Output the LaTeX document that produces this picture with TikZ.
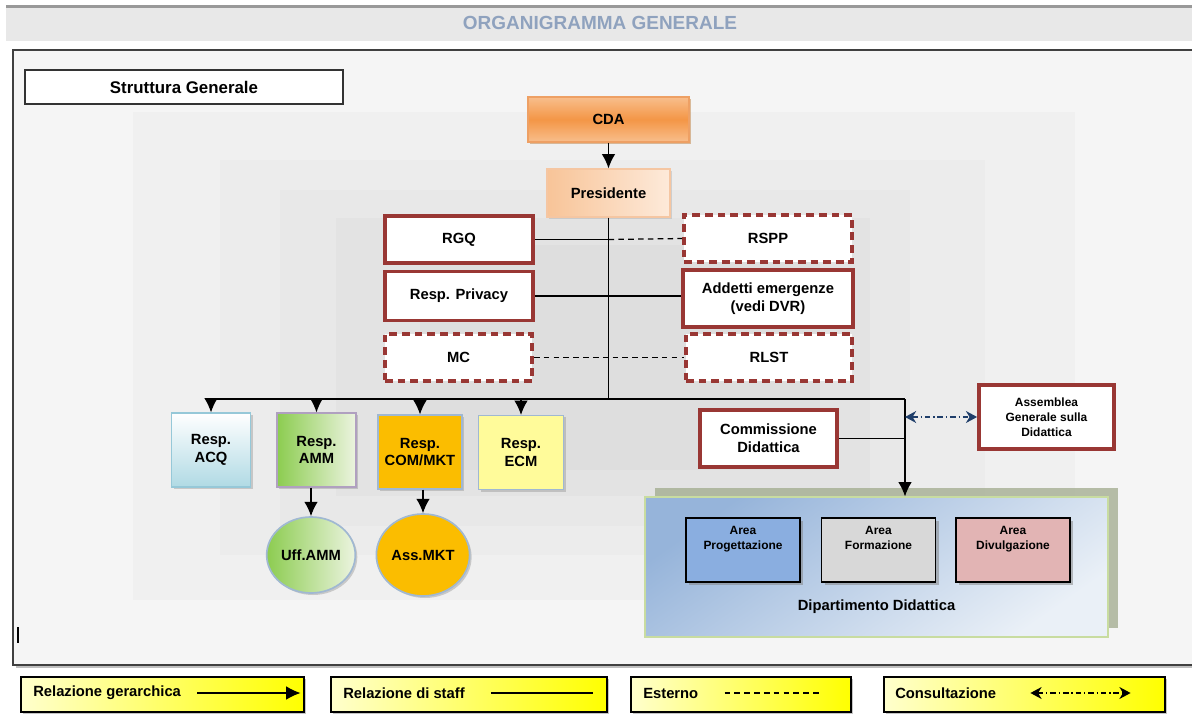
\documentclass[tikz,border=0pt]{standalone}
\usepackage{fontspec}
\setmainfont{Liberation Sans}
\usetikzlibrary{arrows.meta,positioning,shapes.geometric,shadows}
\definecolor{boxred}{RGB}{153,55,52}
\definecolor{titleblue}{RGB}{143,162,190}
\definecolor{cdaA}{RGB}{248,190,140}
\definecolor{cdaB}{RGB}{244,150,70}
\definecolor{cdaline}{RGB}{238,160,100}
\definecolor{presA}{RGB}{253,234,218}
\definecolor{presB}{RGB}{248,196,152}
\definecolor{acqB}{RGB}{176,218,228}
\definecolor{acqline}{RGB}{150,200,216}
\definecolor{ammA}{RGB}{140,204,80}
\definecolor{ammB}{RGB}{236,244,224}
\definecolor{ammline}{RGB}{176,160,192}
\definecolor{amber}{RGB}{251,189,0}
\definecolor{ecmfill}{RGB}{255,251,154}
\definecolor{boxline}{RGB}{160,184,210}
\definecolor{deptA}{RGB}{150,180,218}
\definecolor{deptB}{RGB}{234,240,247}
\definecolor{deptline}{RGB}{200,220,160}
\definecolor{deptshadow}{RGB}{160,170,140}
\definecolor{areaBlue}{RGB}{138,174,224}
\definecolor{areaGray}{RGB}{216,216,216}
\definecolor{areaPink}{RGB}{226,180,180}
\definecolor{navy}{RGB}{31,62,106}
\definecolor{legA}{RGB}{255,255,205}

\begin{document}
\begin{tikzpicture}[
  x=0.25mm,y=-0.25mm,
  font=\fontsize{10.5}{12.5}\selectfont\bfseries,
  base/.style={align=center,inner sep=1pt},
  redbox/.style={base,draw=boxred,line width=2.7pt,fill=white},
  redext/.style={redbox,dash pattern=on 5.5pt off 3.5pt},
  resp/.style={base,line width=0.8pt,minimum height=18.5mm,
               drop shadow={shadow xshift=0.5mm,shadow yshift=-0.5mm,opacity=0.35}},
  office/.style={base,ellipse,draw=boxline,line width=1.2pt,
                 drop shadow={shadow xshift=0.5mm,shadow yshift=-0.5mm,opacity=0.35}},
  area/.style={base,draw,line width=1pt,minimum width=28.5mm,minimum height=16mm,
               text depth=6mm,font=\fontsize{8.5}{10.5}\selectfont\bfseries,
               drop shadow={shadow xshift=0.8mm,shadow yshift=-0.8mm,opacity=0.5}},
  legend/.style={draw,line width=0.8pt,left color=legA,right color=yellow,
                 minimum height=8.75mm,
                 drop shadow={shadow xshift=0.6mm,shadow yshift=-0.6mm,opacity=0.45}},
  legtext/.style={anchor=west,inner sep=0pt},
  arrow/.style={-{Latex[length=3.6mm,width=3.4mm]},line width=0.9pt},
  staff/.style={line width=0.9pt},
  ext/.style={line width=0.9pt,dash pattern=on 4pt off 3pt},
  consult/.style={{Stealth[length=2.8mm,width=3mm]}-{Stealth[length=2.8mm,width=3mm]},
                  line width=0.9pt,dash pattern=on 4pt off 2pt on 1pt off 2pt}
]
\useasboundingbox (0,0) rectangle (1192,715);
\fill[white] (0,0) rectangle (1192,715);

\fill[black!40] (6,5) rectangle (1192,8);
\fill[black!9] (6,8) rectangle (1192,41);
\node[font=\fontsize{13.5}{16}\selectfont\bfseries,text=titleblue] (title) at (600,23)
 {ORGANIGRAMMA GENERALE};

\draw[draw=black!75,line width=1.3pt,fill=black!4,
      drop shadow={shadow xshift=0.8mm,shadow yshift=-0.8mm,opacity=0.5}]
 (13,50) rectangle (1210,665);
\fill[black!6] (133,112) rectangle (1075,600);
\fill[black!7.5] (220,160) rectangle (985,555);
\fill[black!9] (280,190) rectangle (910,526);
\fill[black!11] (336,218) rectangle (870,496);
\fill[black!13] (420,245) rectangle (820,470);
\draw[line width=0.8pt] (18,627) -- (18,643);

\node[draw=black!80,line width=0.9pt,fill=white,minimum width=79.5mm,minimum height=8.5mm,
      font=\fontsize{12}{14}\selectfont\bfseries] (struct) at (184,87) {Struttura Generale};

\node[base,draw=cdaline,line width=0.8pt,top color=cdaA,bottom color=cdaA,middle color=cdaB,
      minimum width=40.25mm,minimum height=11.25mm,
      drop shadow={shadow xshift=0.5mm,shadow yshift=-0.5mm,fill=brown,opacity=0.5}]
 (cda) at (608.5,119.5) {CDA};
\node[base,draw=cdaline!60,line width=0.8pt,left color=presB,right color=presA,
      minimum width=30.75mm,minimum height=12mm,
      drop shadow={shadow xshift=0.4mm,shadow yshift=-0.4mm,opacity=0.25}]
 (pres) at (608.5,193) {Presidente};
\draw[arrow] (cda) -- (pres);

\node[redbox,minimum width=37mm,minimum height=11.75mm] (rgq) at (459,239.5) {RGQ};
\node[redext,minimum width=42mm,minimum height=11.75mm] (rspp) at (768,238.5) {RSPP};
\node[redbox,minimum width=37mm,minimum height=12.25mm] (privacy) at (459,296) {Resp. Privacy};
\node[redbox,minimum width=42.5mm,minimum height=14.25mm] (addetti) at (768,298.5)
 {Addetti emergenze\\(vedi DVR)};
\node[redext,minimum width=36.75mm,minimum height=11.75mm] (mc) at (458.5,357.5) {MC};
\node[redext,minimum width=41.5mm,minimum height=11.75mm] (rlst) at (769,357.5) {RLST};

\coordinate (busL) at (211,399);
\coordinate (busR) at (905,399);
\draw[staff] (pres.south) -- (pres.south |- busL);
\draw[staff] (busL) -- (busR);
\draw[staff] (rgq.east) -- (rgq.east -| pres.south);
\draw[ext] (rgq.east -| pres.south) -- (rspp.west);
\draw[staff] (privacy.east) -- (privacy.east -| addetti.west);
\draw[ext] (mc.east) -- (rlst.west);

\node[resp,draw=acqline,top color=white,bottom color=acqB,minimum width=19.75mm]
 (acq) at (211,450) {Resp.\\ACQ};
\node[resp,draw=ammline,left color=ammA,right color=ammB,minimum width=19.75mm]
 (amm) at (316.5,450) {Resp.\\AMM};
\node[resp,draw=boxline,fill=amber,minimum width=21mm]
 (commkt) at (420,452) {Resp.\\COM/MKT};
\node[resp,draw=boxline,fill=ecmfill,minimum width=21.25mm]
 (ecm) at (521,452.5) {Resp.\\ECM};
\foreach \n in {acq,amm,commkt,ecm}
  \draw[arrow] (\n.north |- busL) -- (\n.north);

\node[office,left color=ammA,right color=ammB,minimum width=21.5mm,minimum height=19mm]
 (uffamm) at (311,555) {Uff.AMM};
\node[office,fill=amber,minimum width=22.5mm,minimum height=20.5mm]
 (assmkt) at (423,555) {Ass.MKT};
\draw[arrow] (uffamm.north |- amm.south) -- (uffamm.north);
\draw[arrow] (assmkt.north |- commkt.south) -- (assmkt.north);

\node[redbox,minimum width=34.25mm,minimum height=14.25mm] (commissione) at (768.5,438.5)
 {Commissione\\Didattica};
\node[redbox,minimum width=33.75mm,minimum height=16mm,
      font=\fontsize{8.5}{10.5}\selectfont\bfseries] (assemblea) at (1046.5,417)
 {Assemblea\\Generale sulla\\Didattica};

\node[draw=deptline,line width=0.8pt,top color=deptA,bottom color=deptB,shading angle=35,
      minimum width=115.75mm,minimum height=35mm,
      drop shadow={shadow xshift=2.6mm,shadow yshift=2.2mm,fill=deptshadow,opacity=0.75}]
 (dept) at (876.5,567) {};
\node[above=6mm of dept.south,inner sep=0pt] (deptlabel) {Dipartimento Didattica};
\node[area,fill=areaBlue] (progettazione) at (743,550) {Area\\Progettazione};
\node[area,fill=areaGray] (formazione) at (878.5,550) {Area\\Formazione};
\node[area,fill=areaPink] (divulgazione) at (1013,550) {Area\\Divulgazione};

\draw[arrow] (busR) -- (busR |- dept.north);
\draw[staff] (commissione.east) -- (commissione.east -| busR);
\draw[consult,navy] (busR |- assemblea.west) -- (assemblea.west);

\node[legend,minimum width=70.75mm] (leg1) at (162.5,694.5) {};
\node[legtext] (leg1t) at (33,693) {Relazione gerarchica};
\draw[arrow] ([xshift=4mm]leg1t.east) -- ([xshift=-1mm]leg1.east |- leg1t.east);
\node[legend,minimum width=69mm] (leg2) at (469,694.5) {};
\node[legtext] (leg2t) at (343,693) {Relazione di staff};
\draw[staff] ([xshift=6.5mm]leg2t.east) -- ([xshift=-3.75mm]leg2.east |- leg2t.east);
\node[legend,minimum width=55mm] (leg3) at (741,694.5) {};
\node[legtext] (leg3t) at (643,693) {Esterno};
\draw[ext] ([xshift=6.5mm]leg3t.east) -- ([xshift=-7.5mm]leg3.east |- leg3t.east);
\node[legend,minimum width=70.25mm] (leg4) at (1024.5,694.5) {};
\node[legtext] (leg4t) at (895,693) {Consultazione};
\draw[consult] ([xshift=8.5mm]leg4t.east) -- ([xshift=-8.75mm]leg4.east |- leg4t.east);
\end{tikzpicture}
\end{document}
